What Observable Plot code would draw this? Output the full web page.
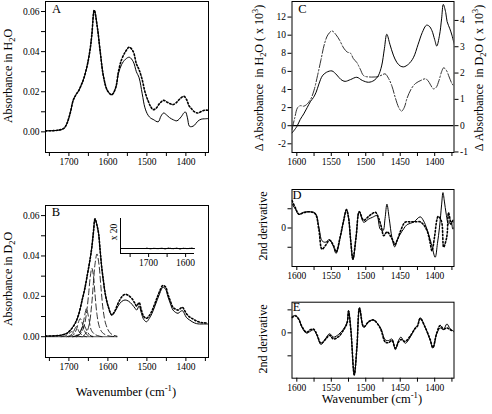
<!DOCTYPE html>
<html><head><meta charset="utf-8">
<script src="https://cdn.jsdelivr.net/npm/d3@7"></script>
<script src="https://cdn.jsdelivr.net/npm/@observablehq/plot@0.6"></script>
<style>
body{margin:0;background:#fff;}
#fig{position:relative;width:492px;height:414px;overflow:hidden;font-family:"Liberation Serif","Times New Roman",Times,"DejaVu Serif",serif;background:#fff;}
#fig svg{position:absolute;left:0;top:0;}
.lab{position:absolute;white-space:nowrap;color:#000;line-height:1;}
.rot{transform:translate(-50%,-50%) rotate(-90deg);}
.hor{transform:translate(-50%,-50%);}
sub,sup{font-size:70%;line-height:0;}
</style></head><body><div id="fig"></div><script>
// ---------- Panel A: absorbance in H2O ----------
const aW = [1760,1740,1725,1713,1705,1696,1689,1682,1675,1668,1662,1652,1645,1641,1635,1627,1620,1611,1601,1590,1580,1573,1565,1555,1545,1535,1527,1520,1512,1505,1497,1490,1484,1471,1464,1457,1450,1442,1432,1423,1412,1405,1401,1396,1391,1385,1378,1370,1361,1352,1344];
const aSolid = [0.0005,0.0006,0.0009,0.0017,0.0042,0.0099,0.0157,0.0185,0.0205,0.0235,0.0265,0.034,0.042,0.0488,0.0607,0.0521,0.0405,0.0273,0.0205,0.0185,0.022,0.029,0.0335,0.0362,0.0372,0.035,0.030,0.027,0.019,0.012,0.0083,0.0068,0.0062,0.005,0.0078,0.0094,0.0085,0.0071,0.006,0.0055,0.0075,0.0095,0.0099,0.007,0.0028,0.0026,0.0033,0.0052,0.0063,0.0065,0.0066];
const aDotW = [1760,1740,1725,1713,1705,1696,1689,1682,1675,1668,1662,1652,1645,1641,1635,1627,1620,1611,1601,1590,1580,1573,1565,1555,1545,1535,1527,1520,1512,1505,1497,1490,1484,1476,1468,1457,1448,1440,1433,1425,1415,1405,1398,1392,1386,1378,1369,1360,1352,1344];
const aDotted = [0.0005,0.0006,0.0009,0.0017,0.0042,0.0099,0.0157,0.0185,0.0205,0.0235,0.0265,0.034,0.042,0.0488,0.0607,0.0521,0.0405,0.0273,0.0205,0.0185,0.022,0.030,0.036,0.040,0.0422,0.040,0.034,0.031,0.026,0.020,0.0155,0.0125,0.0111,0.0118,0.014,0.0157,0.0148,0.014,0.0136,0.0145,0.0165,0.0177,0.016,0.013,0.0116,0.010,0.0094,0.0102,0.0108,0.0108];

// ---------- Panel B: absorbance in D2O ----------
const bW = [1760,1740,1725,1715,1705,1695,1684,1675,1666,1659,1652,1646,1641,1637,1633,1629,1624,1620,1616,1611,1607,1599,1590,1582,1574,1565,1556,1547,1538,1530,1526,1520,1514,1508,1501,1494,1487,1480,1473,1467,1459,1452,1446,1440,1433,1426,1420,1414,1409,1404,1399,1390,1382,1373,1365,1355,1344];
const bSolid = [0.0003,0.0004,0.0006,0.0010,0.0017,0.0035,0.0066,0.011,0.0182,0.024,0.0314,0.038,0.0446,0.052,0.0584,0.056,0.0513,0.043,0.0347,0.027,0.0215,0.0149,0.0108,0.0124,0.0152,0.0174,0.0182,0.0176,0.0160,0.0140,0.0132,0.0152,0.0116,0.0085,0.0074,0.0090,0.0115,0.0149,0.0185,0.0215,0.0245,0.0235,0.0198,0.0165,0.0132,0.0120,0.0116,0.0125,0.0129,0.0115,0.0096,0.0082,0.0072,0.0065,0.0063,0.0063,0.0063];
const bDotted = [0.0003,0.0004,0.0006,0.0010,0.0017,0.0035,0.0066,0.011,0.0182,0.024,0.0314,0.038,0.0446,0.052,0.0584,0.056,0.0513,0.043,0.0347,0.027,0.0215,0.0149,0.0108,0.0128,0.0165,0.0196,0.0210,0.0204,0.0188,0.0163,0.0152,0.0169,0.0131,0.0100,0.0091,0.0104,0.0128,0.0162,0.0197,0.0226,0.0254,0.0246,0.0210,0.0178,0.0145,0.0136,0.0132,0.0140,0.0146,0.0132,0.0115,0.0097,0.0088,0.0078,0.0072,0.0069,0.0068];
// fitted component bands (amide I')
const comp1W = [1665,1655,1648,1642,1637,1633,1628,1623,1618,1612,1605,1595,1585,1577];
const comp1V = [0,0.002,0.006,0.015,0.027,0.036,0.041,0.036,0.025,0.013,0.006,0.002,0.0007,0.0003];
const comp2W = [1680,1668,1660,1654,1649,1645,1641,1637,1633,1628,1622,1614,1600,1577];
const comp2V = [0,0.002,0.006,0.013,0.022,0.030,0.034,0.030,0.021,0.011,0.005,0.002,0.0005,0];
const comp3W = [1690,1675,1667,1662,1658,1655,1652,1648,1642,1632,1615];
const comp3V = [0,0.001,0.004,0.008,0.012,0.014,0.012,0.008,0.003,0.001,0];
const comp4W = [1700,1688,1680,1675,1671,1667,1662,1654,1640];
const comp4V = [0,0.001,0.004,0.0075,0.009,0.0075,0.004,0.001,0];
const comp5W = [1705,1695,1688,1684,1681,1678,1674,1666,1655];
const comp5V = [0,0.0008,0.0025,0.0042,0.005,0.0042,0.0025,0.0007,0];
const comp6W = [1690,1678,1670,1665,1662,1659,1654,1646,1635];
const comp6V = [0,0.0007,0.003,0.005,0.006,0.005,0.003,0.0007,0];
const comp7W = [1720,1708,1700,1696,1693,1690,1686,1678,1668];
const comp7V = [0,0.0005,0.0015,0.0022,0.0025,0.0022,0.0015,0.0005,0];
const baseW = [1760,1577];
const baseV = [0,0];
// inset: residual x 20
const insetW = [1776,1576];
const insetV = [0,0];
const residW = [1705,1695,1685,1675,1665,1655,1645,1635,1625,1615,1605,1595,1585,1578];
const residV = [0.0004,-0.0003,0.0002,-0.0002,0.0003,-0.0004,0.0005,-0.0003,0.0004,-0.0005,0.0003,-0.0002,0.0004,0];

// ---------- Panel C: difference spectra ----------
const cW = [1607,1600,1595,1590,1585,1580,1576,1572,1568,1563,1557,1549,1542,1536,1530,1522,1513,1505,1496,1488,1482,1477,1473,1469.5,1465,1460,1455,1450,1445,1438,1431,1424,1418,1412,1408,1404,1400,1397,1393,1390,1387.5,1384,1382,1378,1375,1371];
const cH2O = [-0.8,-0.1,0.7,1.3,2.0,2.7,3.1,3.7,4.6,5.5,5.9,6.05,5.6,5.1,4.9,5.1,5.35,5.0,4.8,5.0,5.5,6.6,8.5,10.1,9.0,7.8,7.0,6.6,6.5,6.8,7.5,9.0,10.3,11.1,11.0,10.5,9.5,8.8,10.0,11.8,13.4,12.5,11.5,10.7,10.0,8.8];
const cW2 = [1607,1603,1599,1595,1590,1586,1580,1575,1570,1565,1560,1555,1549,1543,1538,1532,1527,1522,1518,1513,1508,1503,1495,1488,1483,1477,1472,1467,1462,1457,1452,1448,1444,1440,1434,1428,1420,1414,1410,1406,1402,1398,1394,1390,1387,1383,1379,1375,1372];
const cD2O = [-0.15,0.3,0.68,0.76,0.74,0.8,1.0,1.35,1.9,2.5,3.1,3.45,3.6,3.45,3.25,2.95,2.8,2.75,2.55,2.4,2.15,1.9,1.85,1.85,1.86,1.92,1.97,1.8,1.5,1.05,0.68,0.55,0.7,1.05,1.4,1.6,1.72,1.78,1.72,1.55,1.4,1.45,1.7,2.05,2.2,2.1,1.85,1.6,1.5];

// ---------- Panel D: 2nd derivative (H2O) ----------
const dW = [1607,1602,1597,1590,1580,1573,1568,1563.5,1558.7,1552.5,1547,1543,1537,1532,1528,1525,1522,1518.6,1514,1509.4,1503,1496,1490,1484,1479,1475,1472,1469.3,1466,1462,1458,1454,1450,1445,1440,1430.7,1421,1416,1411.3,1405,1399.3,1396,1393,1390,1388,1386,1383.3,1380,1376.5,1373.6,1371.7];
const dSolid = [0.62,0.49,0.35,0.41,0.42,0.38,0.02,-0.33,-0.37,-0.30,-0.48,-0.66,-0.24,0.2,0.49,0.28,-0.3,-0.83,-0.24,0.43,0.15,0.23,0.28,0.32,-0.03,-0.07,0.25,0.62,0.25,-0.25,-0.49,-0.3,-0.16,-0.02,0.09,0.15,0.29,0.18,-0.03,-0.4,-0.76,-0.4,0.02,0.6,0.92,0.7,0.36,0.1,0.19,-0.03,0.03];
const dDotW = [1607,1602,1597,1590,1580,1573,1568,1563.5,1558.7,1552.5,1547,1543,1537,1532,1528,1525,1522,1518.6,1514,1509.4,1503,1496,1490,1486,1481,1477,1474,1469,1464.5,1460,1458,1454,1450,1443,1436,1429,1421,1416,1411,1407,1404,1400,1397,1395,1392,1389.4,1387,1384,1382,1380,1378,1376.5,1373,1371.7];
const dDotted = [0.71,0.52,0.36,0.40,0.42,0.36,-0.05,-0.55,-0.46,-0.32,-0.45,-0.62,-0.22,0.2,0.47,0.27,-0.3,-0.8,-0.22,0.42,0.2,0.3,0.38,0.41,0.24,0.0,-0.2,-0.1,-0.2,-0.35,-0.43,-0.3,-0.1,0.15,0.16,0.16,0.16,0.08,-0.07,-0.35,-0.59,-0.2,0.2,0.3,0.25,0.11,-0.5,-0.35,-0.17,0.4,0.25,0.1,0.2,0.15];

// ---------- Panel E: 2nd derivative (D2O) ----------
const eW = [1607,1602,1597.4,1592.5,1586,1580.4,1575.7,1570.7,1565,1558.7,1552.5,1546.7,1539.4,1532,1527,1525,1521.5,1516.7,1512.8,1509,1503,1496,1489,1479,1471.7,1467,1462,1457,1452.5,1449,1442.7,1435.5,1428,1425,1421,1413.8,1406.5,1402.6,1397,1392,1387.3,1382.3,1377.5,1372];
const eSolid = [0.53,0.57,0.46,0.18,-0.01,0.05,0.1,-0.09,-0.38,-0.2,-0.03,-0.14,-0.05,0.13,0.35,0.73,0.08,-1.39,-0.47,0.82,0.18,0.35,0.42,0.18,-0.23,-0.25,-0.2,-0.55,-0.25,-0.14,-0.34,-0.14,0.18,0.24,0.49,0.18,-0.25,-0.5,-0.03,0.16,0.1,0.29,0.13,0.05];
const eDotted = [0.5,0.55,0.45,0.2,0.02,0.1,0.12,-0.06,-0.34,-0.22,-0.08,-0.2,-0.12,0.1,0.33,0.7,0.06,-1.36,-0.45,0.8,0.2,0.36,0.42,0.15,-0.3,-0.32,-0.25,-0.5,-0.3,-0.22,-0.28,-0.1,0.15,0.22,0.47,0.18,-0.22,-0.48,0.0,0.24,0.12,0.16,0.1,0.04];

// ---------- ticks ----------
const xTicksAB = [1750,1700,1650,1600,1550,1500,1450,1400,1350];
const yTicksAB = [0,0.01,0.02,0.03,0.04,0.05,0.06];
const insetTicks = [1750,1700,1650,1600];
const xTicksCDE = [1600,1575,1550,1525,1500,1475,1450,1425,1400,1375];
const yTicksC = [-2,0,2,4,6,8,10,12];
const yTicksCRight = [-1,0,1,2,3,4];
const yTicksD = [-0.5,0,0.5];
const yTicksE = [-0.75,0,0.75];

// ---------- helpers ----------
const zip = (w, v) => w.map((x, i) => ({w: x, v: v[i]}));
const FONT = '"Liberation Serif","Times New Roman",Times,"DejaVu Serif",serif';
const fig = document.getElementById("fig");
function panel({left, right, top, bottom, x, y, marks}) {
  const svg = Plot.plot({
    width: 492, height: 414,
    marginLeft: left, marginRight: 492 - right, marginTop: top, marginBottom: 414 - bottom,
    x, y,
    style: {fontFamily: FONT, fontSize: "9.5px", background: "transparent", overflow: "visible", color: "#000"},
    marks
  });
  fig.appendChild(svg);
}
const solid = (rows) => Plot.line(rows, {x: "w", y: "v", curve: "catmull-rom", stroke: "#000", strokeWidth: 1, clip: true});
const dotted = (rows) => Plot.line(rows, {x: "w", y: "v", curve: "catmull-rom", stroke: "#000", strokeWidth: 1.6, strokeDasharray: "1.5,2", clip: true});
const dashed = (rows) => Plot.line(rows, {x: "w", y: "v", curve: "catmull-rom", stroke: "#000", strokeWidth: 0.8, strokeDasharray: "6,3", clip: true});
const xFmt100 = d => d % 100 === 0 ? String(d) : "";
const xFmt50 = d => d % 50 === 0 ? String(d) : "";
const axX = (ticks, fmt) => Plot.axisX({ticks, tickFormat: fmt, tickSize: 4, tickPadding: 2, label: null});

// Panel A
panel({left: 45, right: 208, top: 1, bottom: 152,
  x: {domain: [1760, 1342]}, y: {domain: [-0.0103, 0.065]},
  marks: [
    Plot.frame({stroke: "#000"}),
    axX(xTicksAB, xFmt100),
    Plot.axisY({ticks: yTicksAB, tickFormat: d => (Math.round(d * 100) % 2 === 0 ? d.toFixed(2) : ""), tickSize: 4, tickPadding: 2, label: null}),
    solid(zip(aW, aSolid)),
    dotted(zip(aDotW, aDotted))
  ]});

// Panel B
panel({left: 45, right: 208, top: 205, bottom: 357,
  x: {domain: [1760, 1342]}, y: {domain: [-0.0103, 0.065]},
  marks: [
    Plot.frame({stroke: "#000"}),
    axX(xTicksAB, xFmt100),
    Plot.axisY({ticks: yTicksAB, tickFormat: d => (Math.round(d * 100) % 2 === 0 ? d.toFixed(2) : ""), tickSize: 4, tickPadding: 2, label: null}),
    Plot.line(zip(baseW, baseV), {x: "w", y: "v", stroke: "#555", strokeWidth: 1}),
    dashed(zip(comp7W, comp7V)),
    dashed(zip(comp5W, comp5V)),
    dashed(zip(comp4W, comp4V)),
    dashed(zip(comp6W, comp6V)),
    dashed(zip(comp3W, comp3V)),
    dashed(zip(comp2W, comp2V)),
    dashed(zip(comp1W, comp1V)),
    solid(zip(bW, bSolid)),
    dotted(zip(bW, bDotted))
  ]});

// Inset in B
panel({left: 120, right: 194, top: 218, bottom: 253,
  x: {domain: [1776, 1576]}, y: {domain: [-0.005, 0.03], axis: null},
  marks: [
    Plot.ruleX([1776], {stroke: "#000", strokeWidth: 1}),
    Plot.ruleY([-0.005], {stroke: "#000", strokeWidth: 1}),
    axX(insetTicks, xFmt100),
    Plot.line(zip(insetW, insetV), {x: "w", y: "v", stroke: "#000", strokeWidth: 1}),
    Plot.line(zip(residW, residV), {x: "w", y: "v", stroke: "#000", strokeWidth: 1, strokeDasharray: "1.5,1.5", curve: "catmull-rom"})
  ]});

// Panel C (dual axis)
const cLeft = [-2.96, 13.72];
const cRight = [-1.02, 4.72];
const r2l = r => cLeft[0] + (r - cRight[0]) / (cRight[1] - cRight[0]) * (cLeft[1] - cLeft[0]);
const l2r = l => cRight[0] + (l - cLeft[0]) / (cLeft[1] - cLeft[0]) * (cRight[1] - cRight[0]);
panel({left: 291.5, right: 453.5, top: 1, bottom: 152,
  x: {domain: [1607, 1372]}, y: {domain: cLeft},
  marks: [
    Plot.frame({stroke: "#000"}),
    axX(xTicksCDE, xFmt50),
    Plot.axisY({ticks: yTicksC, tickFormat: d => String(d), tickSize: 4, tickPadding: 2, label: null}),
    Plot.axisY({anchor: "right", ticks: yTicksCRight.map(r2l), tickFormat: d => String(Math.round(l2r(d))), tickSize: 4, tickPadding: 2, label: null}),
    Plot.ruleY([0], {stroke: "#000", strokeWidth: 1.3}),
    Plot.line(zip(cW2, cD2O.map(r2l)), {x: "w", y: "v", curve: "catmull-rom", stroke: "#333", strokeWidth: 1, strokeDasharray: "9,2,1.5,2", clip: true}),
    solid(zip(cW, cH2O))
  ]});

// Panel D
panel({left: 291.5, right: 453.5, top: 189, bottom: 266,
  x: {domain: [1607, 1372]}, y: {domain: [-1, 1]},
  marks: [
    Plot.frame({stroke: "#000"}),
    axX(xTicksCDE, xFmt50),
    Plot.axisY({ticks: yTicksD, tickFormat: d => d === 0 ? "0" : "", tickSize: 4, tickPadding: 2, label: null}),
    solid(zip(dW, dSolid)),
    dotted(zip(dDotW, dDotted))
  ]});

// Panel E
panel({left: 291.5, right: 453.5, top: 301.7, bottom: 377.7,
  x: {domain: [1607, 1372]}, y: {domain: [-1.48, 1]},
  marks: [
    Plot.frame({stroke: "#000"}),
    axX(xTicksCDE, xFmt50),
    Plot.axisY({ticks: yTicksE, tickFormat: d => d === 0 ? "0" : "", tickSize: 4, tickPadding: 2, label: null}),
    solid(zip(eW, eSolid)),
    dotted(zip(eW, eDotted))
  ]});

// ---------- text labels ----------
const labels = [
  {html: "Absorbance in H<sub>2</sub>O", x: 8, y: 76, cls: "rot", size: 12},
  {html: "Absorbance in D<sub>2</sub>O", x: 8, y: 279, cls: "rot", size: 12},
  {html: "Wavenumber (cm<sup>-1</sup>)", x: 126, y: 392, cls: "hor", size: 12.5},
  {html: "Wavenumber (cm<sup>-1</sup>)", x: 372, y: 399, cls: "hor", size: 12.5},
  {html: "&Delta; Absorbance&nbsp; in H<sub>2</sub>O ( x 10<sup>3</sup>)", x: 259, y: 78, cls: "rot", size: 12},
  {html: "&Delta; Absorbance&nbsp; in D<sub>2</sub>O ( x 10<sup>3</sup>)", x: 479, y: 78, cls: "rot", size: 12},
  {html: "2nd derivative", x: 263, y: 226, cls: "rot", size: 12},
  {html: "2nd derivative", x: 263, y: 339, cls: "rot", size: 12},
  {html: "x 20", x: 115, y: 232, cls: "rot", size: 9.5},
  {html: "A", x: 56.5, y: 8.5, cls: "hor", size: 12.5},
  {html: "B", x: 56, y: 211.5, cls: "hor", size: 12.5},
  {html: "C", x: 302.5, y: 8.5, cls: "hor", size: 12.5},
  {html: "D", x: 297, y: 194.5, cls: "hor", size: 12.5},
  {html: "E", x: 296.5, y: 306.5, cls: "hor", size: 12.5}
];
for (const l of labels) {
  const d = document.createElement("div");
  d.className = "lab " + l.cls;
  d.style.left = l.x + "px";
  d.style.top = l.y + "px";
  d.style.fontSize = l.size + "px";
  d.innerHTML = l.html;
  fig.appendChild(d);
}
</script></body></html>
